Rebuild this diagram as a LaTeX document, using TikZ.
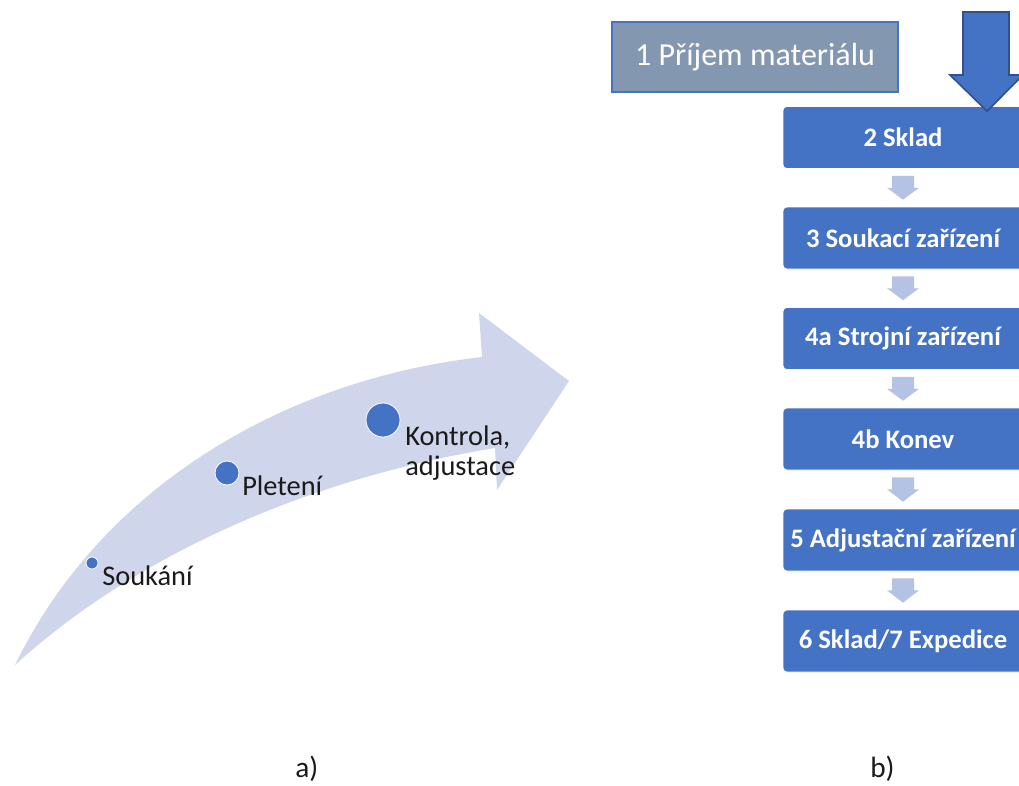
\documentclass[tikz,border=0pt]{standalone}
\usepackage{fontspec}
\setmainfont{Carlito}
\usetikzlibrary{calc}
\definecolor{boxblue}{HTML}{4472C4}
\definecolor{boxdark}{HTML}{2F528F}
\definecolor{greyblue}{HTML}{8497B0}
\definecolor{lightarr}{HTML}{B4C3E3}
\definecolor{curvefill}{HTML}{CFD6EB}
\definecolor{labeltext}{HTML}{1A1A1A}
\begin{document}
\begin{tikzpicture}[x=0.75pt,y=-0.75pt,
  stepbox/.style={draw=white, line width=0.5pt, fill=boxblue, rounded corners=3pt,
    minimum width=180pt, minimum height=46.5pt, inner sep=0pt, text=white,
    font=\fontsize{20}{24}\selectfont\bfseries},
  topbox/.style={draw=boxblue, line width=1.5pt, fill=greyblue, minimum width=214.5pt,
    minimum height=52.5pt, inner sep=0pt, text=white, font=\fontsize{24}{28}\selectfont},
  dotnode/.style={circle, fill=boxblue, draw=white, line width=0.6pt, inner sep=0pt},
  steplabel/.style={text=labeltext, font=\fontsize{21.3}{22.5}\selectfont, inner sep=0pt, align=left},
  caption/.style={text=labeltext, font=\fontsize{22}{26}\selectfont, inner sep=0pt},
  smallarr/.style={fill=lightarr},
  bigarr/.style={fill=boxblue, draw=boxdark, line width=1.2pt, line join=miter}
]
\useasboundingbox (0,0) rectangle (1019,785);
\clip (0,0) rectangle (1019,785);

% ---- a) curved arrow ----
\fill[curvefill] (15,665) .. controls (100,490) and (280,380) .. (482,357)
  -- (479,313) -- (569,381) -- (497,490) -- (495,448)
  .. controls (300,480) and (130,560) .. (15,665) -- cycle;

\node[dotnode, minimum size=9pt] (d1) at (92,563) {};
\node[dotnode, minimum size=18pt] (d2) at (227,473) {};
\node[dotnode, minimum size=25.5pt] (d3) at (383,420) {};
\node[steplabel, anchor=base west] (l1) at (102,585) {Soukání};
\node[steplabel, anchor=base west] (l2) at (242,495) {Pletení};
\node[steplabel, anchor=base west] (l3) at (405,475) {Kontrola,\\adjustace};

% ---- b) flow ----
\node[topbox] (b1) at (755,57) {1 Příjem materiálu};
\node[stepbox] (b2) at (903,137.5) {2 Sklad};
\node[stepbox] (b3) at (903,238) {3 Soukací zařízení};
\node[stepbox] (b4a) at (903,338.5) {4a Strojní zařízení};
\node[stepbox] (b4b) at (903,439) {4b Konev};
\node[stepbox] (b5) at (903,540) {5 Adjustační zařízení};
\node[stepbox] (b6) at (903,641) {6 Sklad/7 Expedice};

\foreach \a/\b in {b2/b3,b3/b4a,b4a/b4b,b4b/b5,b5/b6}{
  \fill[smallarr] ($(\a.south)+(-11,7)$) -- ($(\a.south)+(11,7)$)
    -- ($(\a.south)+(11,19)$) -- ($(\a.south)+(16,19)$)
    -- ($(\b.north)+(0,-7)$)
    -- ($(\a.south)+(-16,19)$) -- ($(\a.south)+(-11,19)$) -- cycle;
}

% big arrow onto box 2
\coordinate (bigtop) at (986,12);
\draw[bigarr] (bigtop) ++(-23,0) -- ++(46,0) -- ++(0,63) -- ++(14,0)
  -- ($(b2.north)+(84,5)$) -- ($(bigtop)+(-36,63)$) -- ($(bigtop)+(-23,63)$) -- cycle;

\node[caption, anchor=base west] (ca) at (295,777) {a)};
\node[caption, anchor=base west] (cb) at (870,777) {b)};
\end{tikzpicture}
\end{document}
